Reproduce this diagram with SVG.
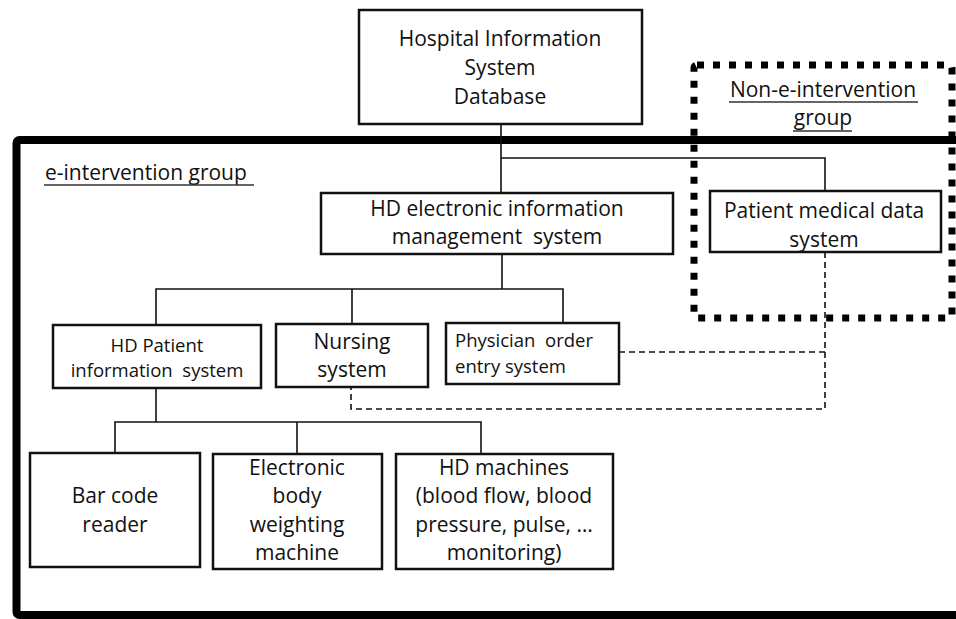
<svg xmlns="http://www.w3.org/2000/svg" width="956" height="619" viewBox="0 0 956 619">
<style>
  text { font-family: "Open Sans", "Liberation Sans", sans-serif; fill: #111; white-space: pre; }
  .box { fill: #fff; stroke: #111; stroke-width: 2.5; }
  .ln { fill: none; stroke: #111; stroke-width: 1.6; }
  .dash { fill: none; stroke: #111; stroke-width: 1.6; stroke-dasharray: 6 4; }
  .c { text-anchor: middle; }
  .ul { stroke: #333; stroke-width: 1.3; }
</style>
<rect width="956" height="619" fill="#fff"/>
<g id="e-intervention-frame">
  <rect x="16.5" y="140" width="960" height="475" rx="3" fill="none" stroke="#000" stroke-width="8"/>
  <text x="45" y="180" font-size="21">e-intervention group</text>
  <line class="ul" x1="44" y1="185" x2="254" y2="185"/>
</g>
<g id="non-e-intervention-frame">
  <rect x="694" y="65" width="258" height="253" rx="3" fill="none" stroke="#000" stroke-width="7" stroke-dasharray="7 9"/>
  <text class="c" x="823" y="97" font-size="21">Non-e-intervention</text>
  <line class="ul" x1="729" y1="102" x2="918" y2="102"/>
  <text class="c" x="823" y="125" font-size="21">group</text>
  <line class="ul" x1="793" y1="131" x2="852" y2="131"/>
</g>
<g id="connectors">
  <polyline class="ln" points="501,124 501,193"/>
  <polyline class="ln" points="501,158 825,158 825,191"/>
  <polyline class="ln" points="502,254 502,289"/>
  <polyline class="ln" points="156,325 156,289 563,289 563,323"/>
  <line class="ln" x1="352" y1="289" x2="352" y2="324"/>
  <polyline class="ln" points="156,388 156,422"/>
  <polyline class="ln" points="115,453 115,422 481,422 481,454"/>
  <line class="ln" x1="297" y1="422" x2="297" y2="454"/>
  <polyline class="dash" points="619,352 825,352"/>
  <polyline class="dash" points="825,252 825,409 351,409 351,387"/>
</g>
<g id="his-db">
  <rect class="box" x="359" y="10" width="283" height="114"/>
  <text class="c" x="500" y="46" font-size="21">Hospital Information</text>
  <text class="c" x="500" y="75" font-size="21">System</text>
  <text class="c" x="500" y="104" font-size="21">Database</text>
</g>
<g id="hd-eims">
  <rect class="box" x="321" y="193" width="352" height="61"/>
  <text class="c" x="497" y="216" font-size="21">HD electronic information</text>
  <text class="c" x="497" y="244" font-size="21">management  system</text>
</g>
<g id="patient-medical-data">
  <rect class="box" x="710" y="191" width="231" height="61"/>
  <text class="c" x="824" y="218" font-size="21">Patient medical data</text>
  <text class="c" x="824" y="247" font-size="21">system</text>
</g>
<g id="hd-patient-info">
  <rect class="box" x="53" y="325" width="208" height="63"/>
  <text class="c" x="157" y="352" font-size="18.5">HD Patient</text>
  <text class="c" x="157" y="377" font-size="18.5">information  system</text>
</g>
<g id="nursing">
  <rect class="box" x="276" y="324" width="152" height="63"/>
  <text class="c" x="352" y="349" font-size="21">Nursing</text>
  <text class="c" x="352" y="377" font-size="21">system</text>
</g>
<g id="physician-order">
  <rect class="box" x="446" y="323" width="173" height="61"/>
  <text x="455" y="347" font-size="18.5">Physician  order</text>
  <text x="455" y="373" font-size="18.5">entry system</text>
</g>
<g id="bar-code">
  <rect class="box" x="30" y="453" width="170" height="114"/>
  <text class="c" x="115" y="503" font-size="21">Bar code</text>
  <text class="c" x="115" y="532" font-size="21">reader</text>
</g>
<g id="body-weight">
  <rect class="box" x="213" y="454" width="169" height="115"/>
  <text class="c" x="297" y="475" font-size="21">Electronic</text>
  <text class="c" x="297" y="503" font-size="21">body</text>
  <text class="c" x="297" y="532" font-size="21">weighting</text>
  <text class="c" x="297" y="560" font-size="21">machine</text>
</g>
<g id="hd-machines">
  <rect class="box" x="396" y="454" width="217" height="115"/>
  <text class="c" x="504" y="475" font-size="21">HD machines</text>
  <text class="c" x="504" y="503" font-size="21">(blood flow, blood</text>
  <text class="c" x="504" y="532" font-size="21">pressure, pulse, …</text>
  <text class="c" x="504" y="560" font-size="21">monitoring)</text>
</g>
</svg>
